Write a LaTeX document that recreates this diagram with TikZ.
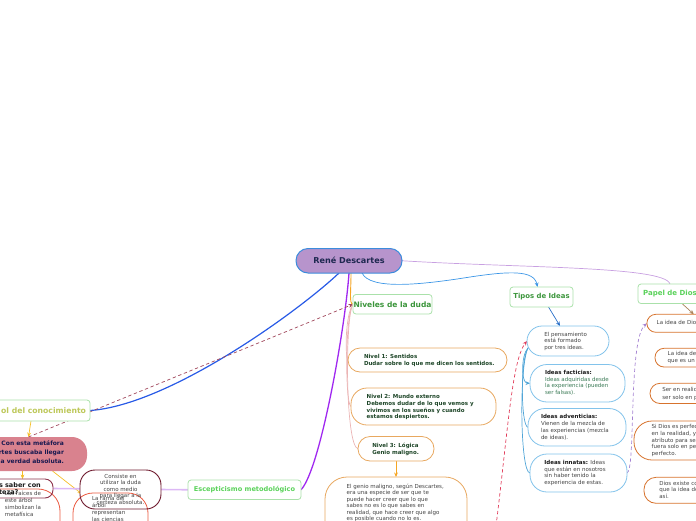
\documentclass[tikz,border=0pt]{standalone}
\usepackage{fontspec}
\setmainfont{DejaVu Sans}
\usetikzlibrary{arrows.meta,calc}
\definecolor{rootFill}{HTML}{B794CC}
\definecolor{rootB}{HTML}{3C8CDC}
\definecolor{rootT}{HTML}{1E2850}
\definecolor{topicB}{HTML}{AAE1AA}
\definecolor{nivelesT}{HTML}{3C963C}
\definecolor{papelT}{HTML}{5AD25A}
\definecolor{arbolT}{HTML}{BEC85A}
\definecolor{nivB}{HTML}{E8A860}
\definecolor{nivT}{HTML}{1E4628}
\definecolor{grayT}{HTML}{444444}
\definecolor{darkT}{HTML}{1A1A1A}
\definecolor{factT}{HTML}{3A7A55}
\definecolor{tcB}{HTML}{82C3EB}
\definecolor{diosB}{HTML}{D7732D}
\definecolor{pinkF}{HTML}{D9828E}
\definecolor{pinkT}{HTML}{191950}
\definecolor{consB}{HTML}{6E192D}
\definecolor{saberB}{HTML}{8C324B}
\definecolor{raizB}{HTML}{EB5A41}
\definecolor{blueL}{HTML}{285AE6}
\definecolor{purpL}{HTML}{A028F0}
\definecolor{orangeL}{HTML}{F5A523}
\definecolor{tiposL}{HTML}{3C96E6}
\definecolor{papelL}{HTML}{C8A0E1}
\definecolor{dashR}{HTML}{A0465A}
\definecolor{dashC}{HTML}{E13C5A}
\definecolor{dashP}{HTML}{A582D2}
\definecolor{tcL}{HTML}{50A5D7}
\definecolor{nivL}{HTML}{EBB4B4}
\definecolor{yelL}{HTML}{F5BE28}
\definecolor{escL}{HTML}{DCB8F5}
\definecolor{papA}{HTML}{AA825A}
\definecolor{tipA}{HTML}{286EC8}
\newcommand{\myfs}[2]{\fontsize{#1}{#2}\selectfont}
\pgfdeclarelayer{connlayer}
\pgfdeclarelayer{filllayer}
\pgfsetlayers{connlayer,filllayer,main}
\begin{document}
\begin{tikzpicture}[x=1pt,y=-1pt,
  every node/.style={inner sep=0pt,outer sep=0pt},
  boxb/.style={draw,line width=0.8pt,fill=white},
  topic/.style={boxb,draw=topicB,rounded corners=3pt,font=\bfseries\myfs{7}{8}},
  lvl/.style={boxb,draw=nivB},
  tcbox/.style={boxb,draw=tcB},
  diosbox/.style={boxb,draw=diosB},
  txt/.style={anchor=north west,align=left,font=\myfs{5.5}{6.6},text=grayT},
  btxt/.style={txt,font=\bfseries\myfs{5.5}{6.7}},
  ahead/.style={-{Stealth[length=4.5pt,width=3.8pt]}},
  conn/.style={line width=0.7pt,line cap=round}
]
\useasboundingbox (0,0) rectangle (696,520);

% ---------- root and main topics ----------
\node[draw=rootB,fill=rootFill,line width=1pt,rounded corners=12pt,minimum width=106pt,minimum height=24.5pt,text=rootT,font=\bfseries\myfs{8.1}{9}] (root) at (349,260.75) {René Descartes};
\node[topic,minimum width=79pt,minimum height=19.5pt,text=nivelesT,font=\bfseries\myfs{7.5}{8}] (niveles) at (392.5,304.25) {Niveles de la duda};
\node[topic,minimum width=63pt,minimum height=20pt,text=nivelesT,font=\bfseries\myfs{6.9}{8}] (tipos) at (541.5,297) {Tipos de Ideas};
\node[topic,minimum width=64pt,minimum height=19.5pt,text=papelT] (papel) at (670,293.75) {Papel de Dios};
\node[topic,minimum width=113pt,minimum height=19.5pt,text=papelT,font=\bfseries\myfs{6.6}{8}] (esc) at (244.5,489.75) {Escepticismo metodológico};
\node[topic,minimum width=118pt,minimum height=21pt] (arbol) at (31,410.5) {};
\node[anchor=east,text=arbolT,font=\bfseries\myfs{7.7}{8}] (arbolt) at (86,410.5) {ol del conocimiento};

% ---------- niveles ----------
\node[lvl,minimum width=159pt,minimum height=24pt,rounded corners=12pt] (nivel1) at (427.5,360) {};
\node[btxt,text=nivT] (nivel1t) at (364,354.3) {Nivel 1: Sentidos\\Dudar sobre lo que me dicen los sentidos.};
\node[lvl,minimum width=145pt,minimum height=37pt,rounded corners=16pt] (nivel2) at (423.5,406.5) {};
\node[btxt,text=nivT] (nivel2t) at (366.7,394.7) {Nivel 2: Mundo externo\\Debemos dudar de lo que vemos y\\vivimos en los sueños y cuando\\estamos despiertos.};
\node[lvl,minimum width=76pt,minimum height=24.5pt,rounded corners=12pt] (nivel3) at (396,448.75) {};
\node[btxt,text=nivT] (nivel3t) at (372.3,443) {Nivel 3: Lógica\\Genio maligno.};
\node[lvl,minimum width=142pt,minimum height=68pt,rounded corners=22pt] (genio) at (396,511) {};
\node[txt,font=\myfs{5.5}{6.5}] (geniot) at (346.7,484) {El genio maligno, según Descartes,\\era una especie de ser que te\\puede hacer creer que lo que\\sabes no es lo que sabes en\\realidad, que hace creer que algo\\es posible cuando no lo es.};

% ---------- tipos ----------
\node[tcbox,minimum width=82pt,minimum height=30pt,rounded corners=15pt] (pens) at (568,341) {};
\node[txt,text=grayT,font=\myfs{5.5}{6.7}] (penst) at (544.3,332) {El pensamiento\\está formado\\por tres ideas.};
\node[tcbox,minimum width=95pt,minimum height=37.5pt,rounded corners=17pt] (fact) at (577.5,383.25) {};
\node[txt,text=factT,font=\myfs{5.5}{6.9}] (factt) at (545,370) {\textcolor{darkT}{\textbf{Ideas facticias:}}\\Ideas adquiridas desde\\la experiencia (pueden\\ser falsas).};
\node[tcbox,minimum width=98pt,minimum height=37.5pt,rounded corners=17pt] (adv) at (577,427.25) {};
\node[txt,font=\myfs{5.5}{6.8}] (advt) at (541,414.7) {\textcolor{darkT}{\textbf{Ideas adventicias:}}\\Vienen de la mezcla de\\las experiencias (mezcla\\de ideas).};
\node[tcbox,minimum width=97pt,minimum height=38pt,rounded corners=17pt] (inn) at (578.5,473) {};
\node[txt,font=\myfs{5.5}{6.6}] (innt) at (544.3,460.3) {\textcolor{darkT}{\textbf{Ideas innatas:}} Ideas\\que están en nosotros\\sin haber tenido la\\experiencia de estas.};

% ---------- papel de Dios ----------
\node[diosbox,minimum width=113pt,minimum height=18pt,rounded corners=9pt] (dios1) at (703.35,323.3) {};
\node[txt,text=grayT] (dios1t) at (656.7,320.3) {La idea de Dios};
\node[diosbox,minimum width=105pt,minimum height=18.7pt,rounded corners=9pt] (dios2) at (707.5,357.65) {};
\node[txt,text=grayT] (dios2t) at (667.7,351.3) {La idea de\\que es un};
\node[diosbox,minimum width=110pt,minimum height=20.2pt,rounded corners=10pt] (dios3) at (705,393.4) {};
\node[txt,text=grayT,font=\myfs{5.5}{7.4}] (dios3t) at (662.3,387.7) {Ser en realidad\\ser solo en pensamiento};
\node[diosbox,minimum width=126pt,minimum height=39pt,rounded corners=18pt] (dios4) at (697,440.5) {};
\node[txt,text=grayT,font=\myfs{5.5}{6.6}] (dios4t) at (651.7,424.7) {Si Dios es perfecto\\en la realidad, y\\atributo para ser\\fuera solo en pensamiento\\perfecto.};
\node[diosbox,minimum width=116pt,minimum height=26pt,rounded corners=12pt] (dios5) at (702,490.3) {};
\node[txt,text=grayT,font=\myfs{5.5}{6.5}] (dios5t) at (659.3,481.3) {Dios existe como\\que la idea de\\así.};

% ---------- arbol group ----------
\node[fill=pinkF,rounded corners=15pt,minimum width=117pt,minimum height=34pt] (pink) at (28.5,454) {};
\node[anchor=north east,align=right,text=pinkT,font=\bfseries\myfs{6}{9}] (pinkt) at (64,441) {Con esta metáfora\\Descartes buscaba llegar\\a una verdad absoluta.};
\begin{pgfonlayer}{filllayer}
\node[fill=white,rounded corners=22pt,minimum width=100pt,minimum height=61pt] (raicesF) at (10,519.5) {};
\node[fill=white,rounded corners=8pt,minimum width=61pt,minimum height=19pt] (saberF) at (22.5,488.5) {};
\node[fill=white,rounded corners=20pt,minimum width=75pt,minimum height=57pt] (ramaF) at (110.5,521.5) {};
\node[fill=white,rounded corners=15pt,minimum width=81pt,minimum height=39pt] (consF) at (120.5,489.5) {};
\end{pgfonlayer}
\node[draw=raizB,line width=0.8pt,rounded corners=22pt,minimum width=100pt,minimum height=61pt] (raices) at (10,519.5) {};
\node[draw=saberB,line width=0.9pt,rounded corners=8pt,minimum width=61pt,minimum height=19pt] (saber) at (22.5,488.5) {};
\node[draw=raizB,line width=0.8pt,rounded corners=20pt,minimum width=75pt,minimum height=57pt] (rama) at (110.5,521.5) {};
\node[draw=consB,line width=0.9pt,rounded corners=15pt,minimum width=81pt,minimum height=39pt] (cons) at (120.5,489.5) {};
\node[txt,font=\myfs{5.5}{6.8}] (raicest) at (5,491.5) {Las raíces de\\este árbol\\simbolizan la\\metafísica};
\node[txt,text=darkT,font=\bfseries\myfs{6.5}{7.5}] (sabert) at (-1,482.5) {s saber con\\teza?};
\node[txt,font=\myfs{5.5}{7}] (ramat) at (92,496) {La rama del\\árbol\\representan\\las ciencias};
\node[txt,anchor=north,align=center,font=\myfs{5.5}{6.6}] (const) at (120.5,474) {Consiste en\\utilizar la duda\\como medio\\para llegar a la\\certeza absoluta.};

\coordinate (crim) at (496,526);

% ---------- connectors ----------
\begin{pgfonlayer}{connlayer}
\draw[conn,blueL,line width=1.2pt] ($(root.south)+(-10,0)$) .. controls (300,310) and (170,405) .. (arbol.east);
\draw[conn,purpL,line width=1.3pt] (root.south) .. controls (345,330) and (320,470) .. (esc.east);
\draw[conn,orangeL,line width=0.9pt] ($(root.south)+(2,0)$) .. controls (351,292) and (349,304) .. (niveles.west);
\draw[conn,tiposL,ahead] ($(root.south)+(13,0)$) .. controls (370,290) and (420,285) .. (470,277) .. controls (510,271) and (534,270) .. ($(tipos.north)+(-4,0)$);
\draw[conn,papelL] (root.east) .. controls (520,268) and (665,266) .. (papel.north);
\draw[conn,dashR,dashed,ahead] (pink.north) -- (niveles.west);
\draw[conn,nivL] (niveles.west) .. controls (345,315) and (345,358) .. (nivel1.west);
\draw[conn,nivL] (niveles.west) .. controls (345,315) and (345,404) .. (nivel2.west);
\draw[conn,nivL] (niveles.west) .. controls (345,315) and (345,446) .. (nivel3.west);
\draw[conn,orangeL,ahead] (nivel3.south) -- (genio.north);
\draw[conn,tipA,ahead] ($(tipos.south)+(7,0)$) -- ($(pens.north)+(-8,0)$);
\draw[conn,tcL,ahead] ($(pens.west)+(1,7)$) .. controls (521,355) and (521,383) .. (fact.west);
\draw[conn,tcL] ($(pens.west)+(1,7)$) .. controls (520,360) and (521,427) .. (adv.west);
\draw[conn,tcL] ($(pens.west)+(1,7)$) .. controls (519,365) and (520,473) .. (inn.west);
\draw[conn,dashC,dashed,ahead] (crim) .. controls (508,430) and (512,360) .. (pens.west);
\draw[conn,dashP,dashed,ahead] (inn.east) .. controls (636,470) and (628,340) .. (dios1.west);
\draw[conn,papA,ahead] ($(papel.south)+(12,0)$) -- ($(dios1.north west)+(47,0)$);
\draw[conn,yelL,ahead] (arbol.south) -- (pink.north);
\draw[conn,yelL,ahead] ($(pink.south)+(-6,0)$) -- (saber.north);
\draw[conn,yelL,ahead] ($(pink.south)+(24,0)$) -- ($(rama.north west)+(9,1)$);
\draw[conn,escL,line width=1.6pt] (esc.west) -- (saber.east);
\end{pgfonlayer}
\end{tikzpicture}
\end{document}
